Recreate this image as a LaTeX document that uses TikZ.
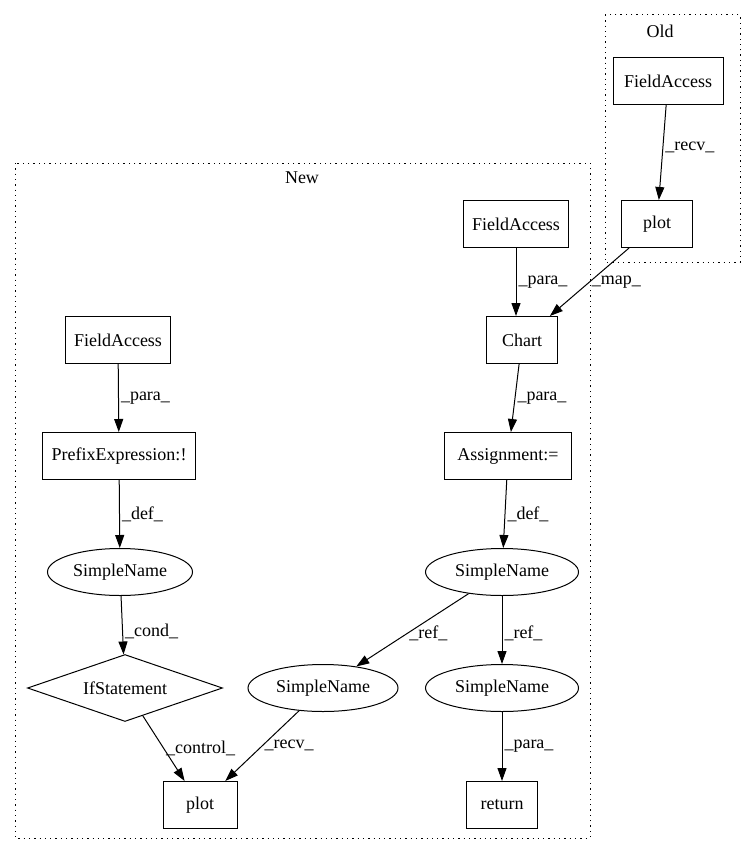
\documentclass[tikz,border=0pt]{standalone}
\usepackage{fontspec}
\setmainfont{Liberation Serif}
\usetikzlibrary{positioning,arrows.meta,shapes.geometric}
\tikzset{
  flow/.style={-{Triangle[length=13pt,width=9pt]},line width=1pt,draw=black},
  lab/.style={right=1pt,inner sep=1pt,font=\fontsize{18}{20}\selectfont},
  box/.style={draw=black,line width=1pt,minimum height=47pt,inner xsep=9pt,
    font=\fontsize{18}{20}\selectfont},
  oval/.style={draw=black,ellipse,line width=1pt,minimum height=47pt,
    minimum width=150pt,inner sep=0pt,font=\fontsize{18}{20}\selectfont},
  condbox/.style={draw=black,diamond,shape aspect=2.9,line width=1pt,minimum height=67pt,
    minimum width=195pt,inner sep=0pt,font=\fontsize{18}{20}\selectfont},
  cluster/.style={draw=black,line width=1pt,dash pattern=on 1.3pt off 4pt}
}
\begin{document}
\begin{tikzpicture}[x=1pt,y=-1pt]
  \useasboundingbox (0,0) rectangle (751,856);
  % clusters
  \draw[cluster] (605,15) rectangle (740,262);
  \node[font=\fontsize{18}{20}\selectfont] (oldtitle) at (660,31) {Old};
  \draw[cluster] (15,163) rectangle (590,838);
  \node[font=\fontsize{18}{20}\selectfont] (newtitle) at (302,178) {New};

  % Old
  \node[box,minimum width=110pt] (oldfield) at (668,81) {FieldAccess};
  \node[box,minimum width=71pt] (oldplot) at (657,224) {plot};

  % New, right branch
  \node[box,minimum width=100pt] (fieldtop) at (516,224) {FieldAccess};
  \node[box,minimum width=71pt] (chart) at (522,340) {Chart};
  \node[box,minimum width=127pt] (assign) at (508,456) {Assignment:=};
  \node[oval,minimum width=153pt] (namevar) at (502,572) {SimpleName};
  \node[oval,minimum width=150pt] (namemid) at (323,688) {SimpleName};
  \node[oval,minimum width=153pt] (nameret) at (502,688) {SimpleName};
  \node[box,minimum width=71pt] (ret) at (502,805) {return};

  % New, left branch
  \node[box,minimum width=100pt] (fieldleft) at (118,340) {FieldAccess};
  \node[box,minimum width=142pt] (prefix) at (119,456) {PrefixExpression:!};
  \node[oval,minimum width=145pt] (namecond) at (120,572) {SimpleName};
  \node[condbox] (ifstmt) at (125,688) {IfStatement};
  \node[box,minimum width=74pt] (newplot) at (200,805) {plot};

  % edges
  \draw[flow] (oldfield) -- node[lab,pos=0.45] {\_recv\_} (oldplot);
  \draw[flow] (oldplot) -- node[lab] {\_map\_} (chart);
  \draw[flow] (fieldtop) -- node[lab] {\_para\_} (fieldtop|-chart.north);
  \draw[flow] (chart) -- node[lab] {\_para\_} (assign);
  \draw[flow] (assign) -- node[lab] {\_def\_} (namevar);
  \draw[flow] (namevar) -- node[lab,pos=0.55] {\_ref\_} (namemid);
  \draw[flow] (namevar) -- node[lab,pos=0.55] {\_ref\_} (nameret);
  \draw[flow] (nameret) -- node[lab] {\_para\_} (ret);
  \draw[flow] (fieldleft) -- node[lab] {\_para\_} (prefix);
  \draw[flow] (prefix) -- node[lab] {\_def\_} (namecond);
  \draw[flow] (namecond) -- node[lab,pos=0.6] {\_cond\_} (ifstmt);
  \draw[flow] (ifstmt) -- node[lab] {\_control\_} (newplot);
  \draw[flow] (namemid) -- node[lab] {\_recv\_} (newplot);
\end{tikzpicture}
\end{document}
